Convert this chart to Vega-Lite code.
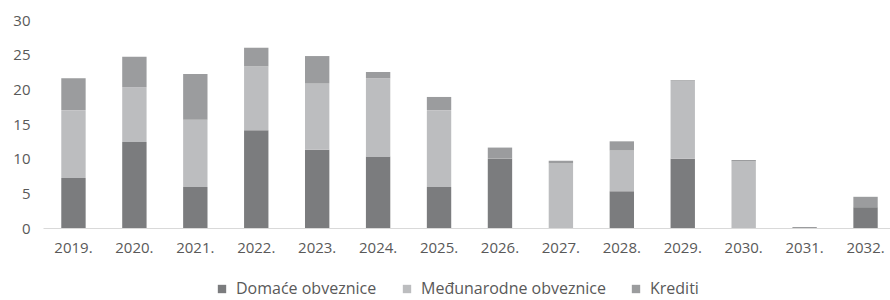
{
  "$schema": "https://vega.github.io/schema/vega-lite/v6.json",
  "width": 853,
  "height": 208,
  "autosize": {"type": "none"},
  "padding": {"left": 43, "top": 20, "right": 0, "bottom": 72},
  "background": "white",
  "data": {
    "values": [
      {"year": "2019.", "series": "Domaće obveznice", "o": 1, "value": 7.2},
      {"year": "2019.", "series": "Međunarodne obveznice", "o": 2, "value": 9.8},
      {"year": "2019.", "series": "Krediti", "o": 3, "value": 4.6},
      {"year": "2020.", "series": "Domaće obveznice", "o": 1, "value": 12.4},
      {"year": "2020.", "series": "Međunarodne obveznice", "o": 2, "value": 7.9},
      {"year": "2020.", "series": "Krediti", "o": 3, "value": 4.4},
      {"year": "2021.", "series": "Domaće obveznice", "o": 1, "value": 5.9},
      {"year": "2021.", "series": "Međunarodne obveznice", "o": 2, "value": 9.7},
      {"year": "2021.", "series": "Krediti", "o": 3, "value": 6.6},
      {"year": "2022.", "series": "Domaće obveznice", "o": 1, "value": 14.1},
      {"year": "2022.", "series": "Međunarodne obveznice", "o": 2, "value": 9.2},
      {"year": "2022.", "series": "Krediti", "o": 3, "value": 2.7},
      {"year": "2023.", "series": "Domaće obveznice", "o": 1, "value": 11.3},
      {"year": "2023.", "series": "Međunarodne obveznice", "o": 2, "value": 9.6},
      {"year": "2023.", "series": "Krediti", "o": 3, "value": 3.9},
      {"year": "2024.", "series": "Domaće obveznice", "o": 1, "value": 10.3},
      {"year": "2024.", "series": "Međunarodne obveznice", "o": 2, "value": 11.3},
      {"year": "2024.", "series": "Krediti", "o": 3, "value": 0.9},
      {"year": "2025.", "series": "Domaće obveznice", "o": 1, "value": 5.9},
      {"year": "2025.", "series": "Međunarodne obveznice", "o": 2, "value": 11.1},
      {"year": "2025.", "series": "Krediti", "o": 3, "value": 1.9},
      {"year": "2026.", "series": "Domaće obveznice", "o": 1, "value": 10.0},
      {"year": "2026.", "series": "Međunarodne obveznice", "o": 2, "value": 0},
      {"year": "2026.", "series": "Krediti", "o": 3, "value": 1.6},
      {"year": "2027.", "series": "Domaće obveznice", "o": 1, "value": 0},
      {"year": "2027.", "series": "Međunarodne obveznice", "o": 2, "value": 9.3},
      {"year": "2027.", "series": "Krediti", "o": 3, "value": 0.4},
      {"year": "2028.", "series": "Domaće obveznice", "o": 1, "value": 5.3},
      {"year": "2028.", "series": "Međunarodne obveznice", "o": 2, "value": 5.9},
      {"year": "2028.", "series": "Krediti", "o": 3, "value": 1.3},
      {"year": "2029.", "series": "Domaće obveznice", "o": 1, "value": 10.0},
      {"year": "2029.", "series": "Međunarodne obveznice", "o": 2, "value": 11.2},
      {"year": "2029.", "series": "Krediti", "o": 3, "value": 0.1},
      {"year": "2030.", "series": "Domaće obveznice", "o": 1, "value": 0},
      {"year": "2030.", "series": "Međunarodne obveznice", "o": 2, "value": 9.6},
      {"year": "2030.", "series": "Krediti", "o": 3, "value": 0.2},
      {"year": "2031.", "series": "Domaće obveznice", "o": 1, "value": 0},
      {"year": "2031.", "series": "Međunarodne obveznice", "o": 2, "value": 0},
      {"year": "2031.", "series": "Krediti", "o": 3, "value": 0.15},
      {"year": "2032.", "series": "Domaće obveznice", "o": 1, "value": 3.0},
      {"year": "2032.", "series": "Međunarodne obveznice", "o": 2, "value": 0},
      {"year": "2032.", "series": "Krediti", "o": 3, "value": 1.5}
    ]
  },
  "mark": {"type": "bar"},
  "encoding": {
    "x": {
      "field": "year",
      "type": "ordinal",
      "title": null,
      "scale": {"paddingInner": 0.6, "paddingOuter": 0.3},
      "axis": {
        "labelAngle": 0,
        "labelFont": "Open Sans",
        "labelFontSize": 15,
        "labelColor": "#595959",
        "labelPadding": 12,
        "domainColor": "#d9d9d9",
        "domainWidth": 1,
        "ticks": false,
        "grid": false
      }
    },
    "y": {
      "field": "value",
      "type": "quantitative",
      "stack": "zero",
      "title": null,
      "scale": {"domain": [0, 30], "nice": false},
      "axis": {
        "values": [0, 5, 10, 15, 20, 25, 30],
        "labelFont": "Open Sans",
        "labelFontSize": 15,
        "labelColor": "#595959",
        "labelPadding": 13,
        "domain": false,
        "ticks": false,
        "grid": false
      }
    },
    "color": {
      "field": "series",
      "type": "nominal",
      "scale": {
        "domain": ["Domaće obveznice", "Međunarodne obveznice", "Krediti"],
        "range": ["#7b7c7e", "#bcbdbf", "#9b9c9e"]
      },
      "legend": {
        "title": null,
        "orient": "none",
        "direction": "horizontal",
        "legendX": 171,
        "legendY": 261,
        "symbolType": "square",
        "symbolSize": 70,
        "symbolStrokeWidth": 0,
        "labelFont": "Open Sans",
        "labelFontSize": 16,
        "labelColor": "#595959",
        "labelOffset": 6,
        "labelLimit": 400,
        "columnPadding": 22
      }
    },
    "order": {"field": "o", "type": "quantitative"}
  },
  "config": {"view": {"stroke": null}}
}
